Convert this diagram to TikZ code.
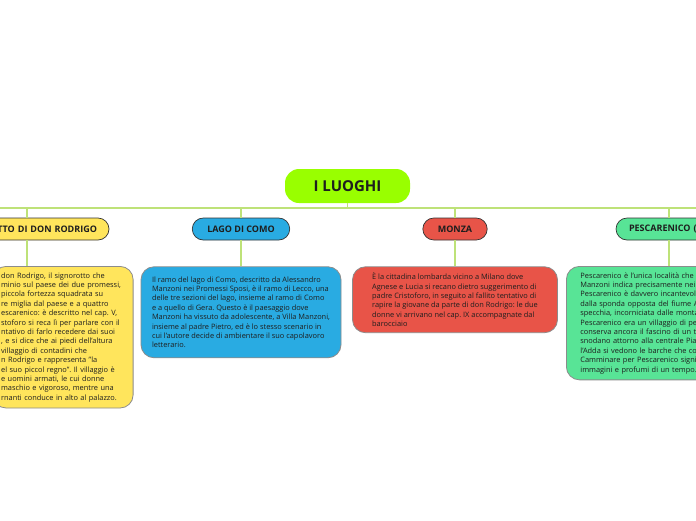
\documentclass[tikz,border=0pt]{standalone}
\usepackage{fontspec}
\setmainfont{Open Sans}
\usetikzlibrary{positioning}
\definecolor{hubgreen}{RGB}{153,255,0}
\definecolor{linkgreen}{RGB}{190,226,120}
\definecolor{rodyellow}{RGB}{255,229,92}
\definecolor{comoblue}{RGB}{41,171,226}
\definecolor{monzared}{RGB}{232,84,72}
\definecolor{pescagreen}{RGB}{88,228,150}
\definecolor{ink}{RGB}{30,30,30}
\frenchspacing

\begin{document}
\begin{tikzpicture}[x=1pt, y=-1pt, text=ink, head/.style={draw=black!80, line width=0.7pt, rounded corners=11pt, minimum height=22pt, inner xsep=15pt, font=\fontsize{9}{10}\selectfont\bfseries}, card/.style={draw=black!45, line width=0.8pt, rounded corners=13pt, align=left, inner xsep=10pt, inner ysep=6pt, font=\fontsize{7.4}{9.4}\selectfont}, link/.style={linkgreen, line width=1.4pt}]
\useasboundingbox (0,0) rectangle (696,520);
\clip (0,0) rectangle (696,520);
\fill[white] (0,0) rectangle (696,520);
\coordinate (busw) at (0,208);
\coordinate (buse) at (696,208);
\node[fill=hubgreen, rounded corners=14pt, minimum width=125pt, minimum height=34pt, font=\fontsize{15}{18}\selectfont\bfseries] (hub) at (347.5,186) {I LUOGHI};
\node[head, fill=rodyellow, text width=140pt, inner xsep=12pt, align=right] (rodhead) at (27,229) {TTO DI DON RODRIGO};
\node[head, fill=comoblue, minimum width=97pt] (comohead) at (241,229) {LAGO DI COMO};
\node[head, fill=monzared, minimum width=63pt] (monzahead) at (455,229) {MONZA};
\node[head, fill=pescagreen, text width=80pt, inner xsep=13pt, align=left] (pescahead) at (669,229) {PESCARENICO (};
\node[card, fill=rodyellow, anchor=north east, inner xsep=8pt, text width=124pt, minimum height=137pt] (rodbox) at (133.5,266) {don Rodrigo, il signorotto che\\minio sul paese dei due promessi,\\piccola fortezza squadrata su\\re miglia dal paese e a quattro\\escarenico: è descritto nel cap. V,\\stoforo si reca lì per parlare con il\\ntativo di farlo recedere dai suoi\\, e si dice che ai piedi dell'altura\\villaggio di contadini che\\n Rodrigo e rappresenta "la\\el suo piccol regno". Il villaggio è\\e uomini armati, le cui donne\\maschio e vigoroso, mentre una\\rnanti conduce in alto al palazzo.};
\node[card, fill=comoblue, minimum width=200pt, minimum height=91pt, below=26pt of comohead] (comobox) {Il ramo del lago di Como, descritto da Alessandro\\Manzoni nei Promessi Sposi, è il ramo di Lecco, una\\delle tre sezioni del lago, insieme al ramo di Como\\e a quello di Gera. Questo è il paesaggio dove\\Manzoni ha vissuto da adolescente, a Villa Manzoni,\\insieme al padre Pietro, ed è lo stesso scenario in\\cui l'autore decide di ambientare il suo capolavoro\\letterario.};
\node[card, fill=monzared, minimum width=205pt, minimum height=62pt, below=26pt of monzahead] (monzabox) {È la cittadina lombarda vicino a Milano dove\\Agnese e Lucia si recano dietro suggerimento di\\padre Cristoforo, in seguito al fallito tentativo di\\rapire la giovane da parte di don Rodrigo: le due\\donne vi arrivano nel cap. IX accompagnate dal\\barocciaio};
\node[card, fill=pescagreen, anchor=north west, inner xsep=14pt, text width=200pt, minimum height=109pt] (pescabox) at (566,266) {Pescarenico è l'unica località che A\\Manzoni indica precisamente nei l\\Pescarenico è davvero incantevole\\dalla sponda opposta del fiume Ad\\specchia, incorniciata dalle monta\\Pescarenico era un villaggio di pes\\conserva ancora il fascino di un te\\snodano attorno alla centrale Piaz\\l'Adda si vedono le barche che colo\\Camminare per Pescarenico signif\\immagini e profumi di un tempo.};
\draw[link] (busw) -- (buse);
\draw[link] (hub.south) -- (hub.south |- busw);
\draw[link] (rodhead.north |- busw) -- (rodhead.north);
\draw[link] (comohead.north |- busw) -- (comohead.north);
\draw[link] (monzahead.north |- busw) -- (monzahead.north);
\draw[link] (pescahead.north |- busw) -- (pescahead.north);
\draw[link] (rodhead.south) -- (rodhead.south |- rodbox.north);
\draw[link] (comohead) -- (comobox);
\draw[link] (monzahead) -- (monzabox);
\draw[link] (pescahead.south) -- (pescahead.south |- pescabox.north);
\end{tikzpicture}
\end{document}
